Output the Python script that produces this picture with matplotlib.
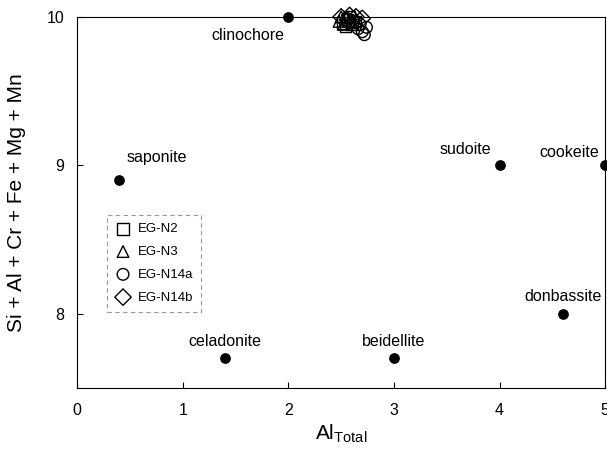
import matplotlib
matplotlib.use("Agg")
import matplotlib.pyplot as plt
import numpy as np

plt.rcParams['font.family'] = ['Liberation Sans', 'DejaVu Sans']

# reference minerals
minerals = ["clinochore", "saponite", "celadonite", "beidellite", "sudoite", "cookeite", "donbassite"]
mineral_al = [2.0, 0.4, 1.4, 3.0, 4.0, 5.0, 4.6]
mineral_sum = [10.0, 8.9, 7.7, 7.7, 9.0, 9.0, 8.0]

# sample analyses (estimated from the cluster)
n2_al = [2.52, 2.56, 2.60, 2.63, 2.58, 2.54]
n2_sum = [9.96, 9.98, 9.95, 9.97, 10.0, 9.94]
n3_al = [2.48, 2.52, 2.55, 2.60, 2.50]
n3_sum = [9.97, 9.95, 10.0, 9.96, 10.0]
n14a_al = [2.62, 2.66, 2.70, 2.72, 2.68, 2.74]
n14a_sum = [9.97, 9.92, 9.90, 9.88, 9.95, 9.93]
n14b_al = [2.50, 2.58, 2.64, 2.70, 2.56]
n14b_sum = [10.0, 10.01, 10.0, 9.99, 9.98]

# label offsets (points)
offsets = {
    "clinochore": (-3, -8, "right", "top"),
    "saponite": (5, 11, "left", "bottom"),
    "celadonite": (0, 7, "center", "bottom"),
    "beidellite": (0, 7, "center", "bottom"),
    "sudoite": (-6, 6, "right", "bottom"),
    "cookeite": (-4, 4, "right", "bottom"),
    "donbassite": (0, 7, "center", "bottom"),
}

fig = plt.figure(figsize=(6.07, 4.57), dpi=100)
ax = fig.add_axes([0.127, 0.151, 0.870, 0.812])

ax.scatter(mineral_al, mineral_sum, s=45, color="black", zorder=3, clip_on=False)
for name, x, y in zip(minerals, mineral_al, mineral_sum):
    dx, dy, ha, va = offsets[name]
    ax.annotate(name, (x, y), xytext=(dx, dy), textcoords="offset points",
                ha=ha, va=va, fontsize=11.5)

kw = dict(facecolors="none", edgecolors="black", linewidths=1.0, s=70, clip_on=False, zorder=4)
ax.scatter(n2_al, n2_sum, marker="s", label="EG-N2", **kw)
ax.scatter(n3_al, n3_sum, marker="^", label="EG-N3", **kw)
ax.scatter(n14a_al, n14a_sum, marker="o", label="EG-N14a", **kw)
ax.scatter(n14b_al, n14b_sum, marker="D", label="EG-N14b", **kw)

ax.set_xlim(0, 5)
ax.set_ylim(7.5, 10)
ax.set_xticks([0, 1, 2, 3, 4, 5])
ax.set_yticks([8, 9, 10])
ax.tick_params(direction="in", labelsize=11.5, length=4)
ax.tick_params(axis="x", pad=11)
ax.tick_params(axis="y", pad=9)

for sp in ax.spines.values():
    sp.set_linewidth(0.8)

ax.set_xlabel(r"Al$_{\mathregular{Total}}$", fontsize=15, labelpad=3)
ax.set_ylabel("Si + Al + Cr + Fe + Mg + Mn", fontsize=15, labelpad=15)

leg = ax.legend(loc="upper left", bbox_to_anchor=(0.057, 0.466), borderaxespad=0,
                fontsize=9.5, frameon=True, fancybox=False, edgecolor="0.5",
                handletextpad=0.5, handlelength=1.2, borderpad=0.6,
                labelspacing=0.8, scatterpoints=1, markerscale=1.0)
leg.get_frame().set_linestyle((0, (4, 3)))
leg.get_frame().set_linewidth(0.8)

fig.savefig("out.png", dpi=100)
